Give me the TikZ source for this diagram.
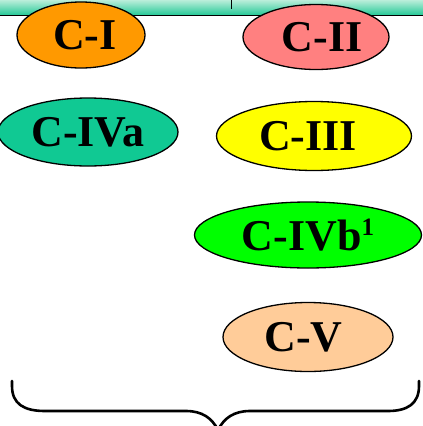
\documentclass[tikz,border=0pt]{standalone}
\usepackage{fontspec}
\setmainfont{Liberation Serif}
\usetikzlibrary{shapes.geometric}
\definecolor{barTop}{HTML}{C4F0DE}
\definecolor{barBot}{HTML}{30CC9C}
\definecolor{cOne}{HTML}{FF9900}
\definecolor{cTwo}{HTML}{FF8080}
\definecolor{cFourA}{HTML}{10C993}
\definecolor{cThree}{HTML}{FFFF00}
\definecolor{cFourB}{HTML}{00FF00}
\definecolor{cFive}{HTML}{FFCC99}
\begin{document}
\begin{tikzpicture}[x=1pt,y=-1pt,
  ell/.style={ellipse, draw=black, line width=1.3pt, inner sep=0pt,
    font=\fontsize{44}{44}\selectfont\bfseries},
  bracepath/.style={line width=2.6pt, line cap=round}]
\useasboundingbox (0,0) rectangle (423,426);
\clip (0,0) rectangle (423,426);
% top bar (gradient built from strips)
\foreach \i in {0,...,15}{
  \pgfmathsetmacro{\pct}{100-\i*100/15}
  \fill[barTop!\pct!barBot] (-2,\i-1) rectangle (425,\i+0.6);
}
\draw[line width=1.8pt] (-2,15.5) -- (425,15.5);
\draw[line width=1pt] (231.5,-2) -- (231.5,9);
% ellipses
\node[ell, fill=cOne, minimum width=128pt, minimum height=66pt] (c1) at (81,35) {\hspace*{8pt}C-I};
\node[ell, fill=cTwo, minimum width=146pt, minimum height=65pt] (c2) at (316,37) {\hspace*{12pt}C-II};
\node[ell, fill=cFourA, minimum width=180pt, minimum height=68pt] (c4a) at (88,132) {C-IVa};
\node[ell, fill=cThree, minimum width=195pt, minimum height=69pt] (c3) at (314,136) {C-III\hspace*{12pt}};
\node[ell, fill=cFourB, minimum width=227pt, minimum height=66pt] (c4b) at (308,235) {C-IVb\raisebox{15pt}{\fontsize{25}{25}\selectfont 1}};
\node[ell, fill=cFive, minimum width=170pt, minimum height=69pt] (c5) at (308,337) {C-V\hspace*{9pt}};
% brace
\coordinate (bl) at (12,381);
\coordinate (br) at (419,381);
\coordinate (tip) at (218,430);
\draw[bracepath] (bl) -- (12,386) .. controls (12,404) and (24,411) .. (45,411) -- (186,411)
  .. controls (202,411) and (212,418) .. (tip);
\draw[bracepath] (br) -- (419,386) .. controls (419,404) and (407,411) .. (388,411) -- (250,411)
  .. controls (234,411) and (224,418) .. (tip);
\end{tikzpicture}
\end{document}
